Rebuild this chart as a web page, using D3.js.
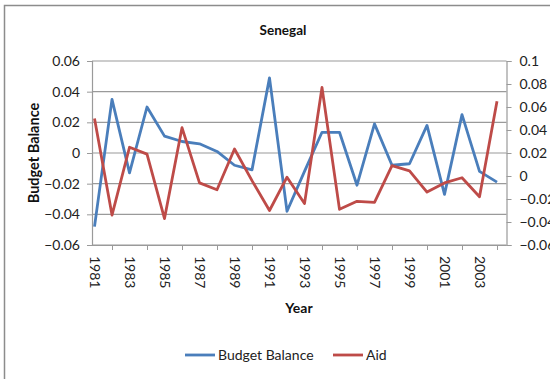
<!DOCTYPE html>
<html><head><meta charset="utf-8">
<script src="https://cdn.jsdelivr.net/npm/d3@7"></script>
<style>body{margin:0;background:#fff}svg{display:block;font-family:Lato,"Open Sans",sans-serif}</style>
</head><body><svg id="c" width="550" height="379"></svg>
<script>
const years = d3.range(1981, 2005);
const budgetBalance = [-0.048, 0.035, -0.013, 0.030, 0.011, 0.0075, 0.006, 0.001, -0.008, -0.011, 0.049, -0.038, -0.012, 0.0135, 0.0135, -0.021, 0.019, -0.008, -0.007, 0.018, -0.027, 0.025, -0.012, -0.019];
const aid = [0.050, -0.034, 0.025, 0.019, -0.037, 0.042, -0.006, -0.012, 0.0235, -0.004, -0.030, -0.001, -0.024, 0.077, -0.029, -0.022, -0.023, 0.009, 0.0045, -0.014, -0.006, -0.0015, -0.018, 0.065];
const leftTicks = [-0.06, -0.04, -0.02, 0, 0.02, 0.04, 0.06];
const rightTicks = [-0.06, -0.04, -0.02, 0, 0.02, 0.04, 0.06, 0.08, 0.1];
const labelYears = years.filter(y => y % 2 === 1);
const tickYears = years.filter(y => y % 2 === 0);
const seriesNames = ["Budget Balance", "Aid"];
const colors = ["#4A7EBB", "#BE4B48"];

const svg = d3.select("#c");
const L = 92, R = 506.5, T = 61, B = 245;
const x = d3.scaleLinear().domain([1981, 2004]).range([94.5, 497]);
const yL = d3.scaleLinear().domain([-0.06, 0.06]).range([B, T]);
const yR = d3.scaleLinear().domain([-0.06, 0.1]).range([B, T]);
const fmt = v => v === 0 ? "0" : d3.format("")(+v.toFixed(2));

// outer border
svg.append("rect").attr("x", 4.5).attr("y", 5.5).attr("width", 560).attr("height", 400)
  .attr("fill", "none").attr("stroke", "#8c8c8c").attr("stroke-width", 1.5);

// gridlines
svg.append("g").selectAll("line").data(leftTicks).join("line")
  .attr("x1", L).attr("x2", R).attr("y1", d => yL(d)).attr("y2", d => yL(d))
  .attr("stroke", "#9a9a9a").attr("stroke-width", 1.2);

// left axis
const gl = svg.append("g").attr("transform", `translate(${L},0)`)
  .call(d3.axisLeft(yL).tickValues(leftTicks).tickFormat(fmt).tickSize(5).tickPadding(7));
// right axis
const gr = svg.append("g").attr("transform", `translate(${R},0)`)
  .call(d3.axisRight(yR).tickValues(rightTicks).tickFormat(fmt).tickSize(5).tickPadding(8));
// bottom axis
const gb = svg.append("g").attr("transform", `translate(0,${B})`)
  .call(d3.axisBottom(x).tickValues(tickYears).tickFormat("").tickSize(5).tickSizeOuter(0));
gb.select(".domain").attr("d", `M${L},0.5H${R}`);
[gl, gr, gb].forEach(g => {
  g.select(".domain").attr("stroke", "#9a9a9a").attr("stroke-width", 1.2);
  g.selectAll(".tick line").attr("stroke", "#9a9a9a");
  g.selectAll("text").attr("font-size", 14).attr("fill", "#222").attr("font-family", "Lato, sans-serif");
});

// year labels rotated
svg.append("g").selectAll("text").data(labelYears).join("text")
  .attr("transform", d => `translate(${x(d)},256) rotate(90)`)
  .attr("dy", "0.35em").attr("font-size", 14).attr("fill", "#222").text(d => d);

// lines
const data = [budgetBalance, aid];
const scales = [yL, yR];
data.forEach((arr, i) => {
  const line = d3.line().x((d, j) => x(years[j])).y(d => scales[i](d));
  svg.append("path").datum(arr).attr("d", line).attr("fill", "none")
    .attr("stroke", colors[i]).attr("stroke-width", 2.8).attr("stroke-linejoin", "round");
});

// titles
svg.append("text").attr("x", 283).attr("y", 35).attr("text-anchor", "middle")
  .attr("font-weight", "bold").attr("font-size", 13.5).attr("fill", "#111").text("Senegal");
svg.append("text").attr("transform", "translate(39,153) rotate(-90)").attr("text-anchor", "middle")
  .attr("font-weight", "bold").attr("font-size", 14.5).attr("fill", "#111").text("Budget Balance");
svg.append("text").attr("x", 299).attr("y", 313).attr("text-anchor", "middle")
  .attr("font-weight", "bold").attr("font-size", 14).attr("fill", "#111").text("Year");

// legend
const legX = [185, 333];
seriesNames.forEach((n, i) => {
  const g = svg.append("g").attr("transform", `translate(${legX[i]},355)`);
  g.append("line").attr("x1", 0).attr("x2", 30).attr("stroke", colors[i]).attr("stroke-width", 2.8);
  g.append("text").attr("x", 33).attr("dy", "0.35em").attr("font-size", 14).attr("fill", "#222").text(n);
});
</script></body></html>
